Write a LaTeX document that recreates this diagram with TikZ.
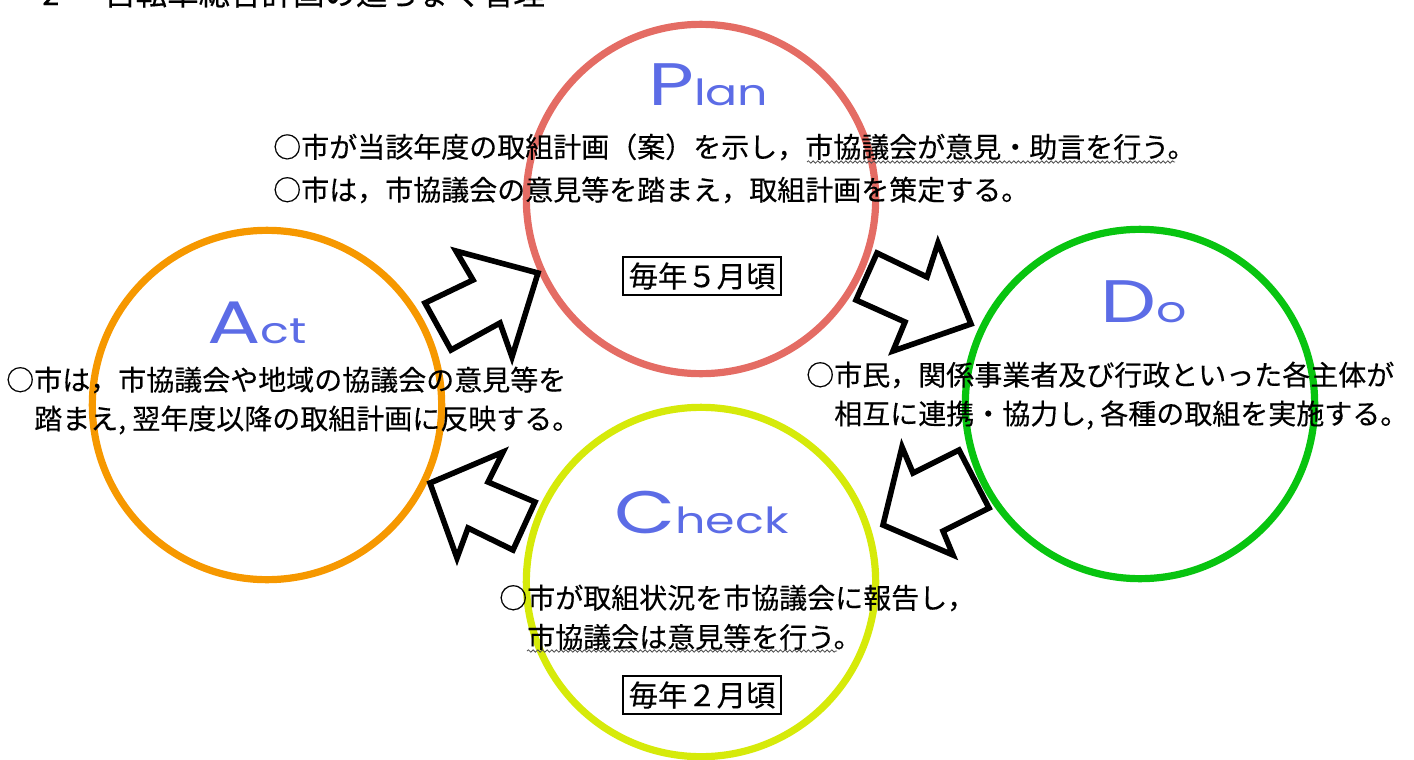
\documentclass[tikz,border=0pt]{standalone}
\usepackage{fontspec}
\setmainfont[FakeBold=0.35]{Noto Sans CJK JP}
\newfontfamily\labfont[FakeStretch=1.32]{Poppins}
\usetikzlibrary{decorations.pathmorphing}
\definecolor{planred}{RGB}{228,108,100}
\definecolor{dogreen}{RGB}{8,196,16}
\definecolor{checkyel}{RGB}{214,234,10}
\definecolor{actorange}{RGB}{246,152,0}
\definecolor{labblue}{RGB}{92,108,230}
\tikzset{
  cyc/.style={circle, draw, line width=5.4pt, inner sep=0pt, minimum size=262pt},
  txt/.style={anchor=west, inner sep=0pt, font=\fontsize{21}{24}\selectfont},
  yearbox/.style={draw, line width=1.5pt, fill=white, inner xsep=4pt, inner ysep=4pt, font=\fontsize{22}{24}\selectfont},
  blockarrow/.style={draw=black, fill=white, line width=4.2pt, line join=miter},
  lab/.style={anchor=base west, inner sep=0pt, text=labblue},
  wavy/.style={line width=0.6pt, black!70, decorate, decoration={snake, amplitude=0.9pt, segment length=3.5pt}}
}
\newcommand{\cyclab}[2]{{\labfont\fontsize{45}{45}\selectfont #1}{\labfont\fontsize{27}{27}\selectfont #2}}
\begin{document}
\begin{tikzpicture}[x=0.75pt,y=-0.75pt]
\useasboundingbox (0,0) rectangle (1414,760);
% heading (clipped at top)
\node[anchor=base west, inner sep=0pt, font=\fontsize{23}{24}\selectfont] (hnum) at (42,5) {2};
\node[anchor=base west, inner sep=0pt, font=\fontsize{23.6}{24}\selectfont] (htitle) at (104,5) {自転車総合計画の進ちょく管理};
% circles
\node[cyc, draw=planred] (plan) at (701,199) {};
\node[cyc, draw=dogreen] (do) at (1140,404) {};
\node[cyc, draw=checkyel] (check) at (701,582) {};
\node[cyc, draw=actorange] (act) at (267,405) {};
% labels
\node[lab] (planlab) at (648,105) {\cyclab{P}{lan}};
\node[lab] (dolab) at (1100,322) {\cyclab{D}{o}};
\node[lab] (actlab) at (207,343) {\cyclab{A}{ct}};
\node[lab] (checklab) at (614,533) {\cyclab{C}{heck}};
% block arrows
\draw[blockarrow] (425,303) -- (473,280) -- (456,251) -- (538,273) -- (512,357) -- (500,323) -- (451,350) -- cycle;
\draw[blockarrow] (877,253) -- (927,277) -- (938,243) -- (971,324) -- (893,351) -- (905,322) -- (856,300) -- cycle;
\draw[blockarrow] (959,450) -- (989,508) -- (943,531) -- (953,555) -- (883,525) -- (902,447) -- (913,473) -- cycle;
\draw[blockarrow] (430,483) -- (503,452) -- (488,482) -- (535,502) -- (513,550) -- (468,528) -- (457,558) -- cycle;
% Plan texts
\node[txt] (plan1) at (273,147) {○市が当該年度の取組計画（案）を示し，市協議会が意見・助言を行う。};
\node[txt] (plan2) at (273,190) {○市は，市協議会の意見等を踏まえ，取組計画を策定する。};
\draw[wavy] (807,162) -- (1175,162);
\node[yearbox] (planyear) at (702,276) {毎年５月頃};
% Do texts
\node[txt] (do1) at (806,375) {○市民，関係事業者及び行政といった各主体が};
\node[txt] (do2) at (834,415) {相互に連携・協力し, 各種の取組を実施する。};
% Act texts
\node[txt] (act1) at (6,380) {○市は，市協議会や地域の協議会の意見等を};
\node[txt] (act2) at (34,420) {踏まえ, 翌年度以降の取組計画に反映する。};
% Check texts
\node[txt] (check1) at (499,598) {○市が取組状況を市協議会に報告し，};
\node[txt] (check2) at (527,637) {市協議会は意見等を行う。};
\draw[wavy] (527,651) -- (837,651);
\node[yearbox] (checkyear) at (702,695) {毎年２月頃};
\end{tikzpicture}
\end{document}
